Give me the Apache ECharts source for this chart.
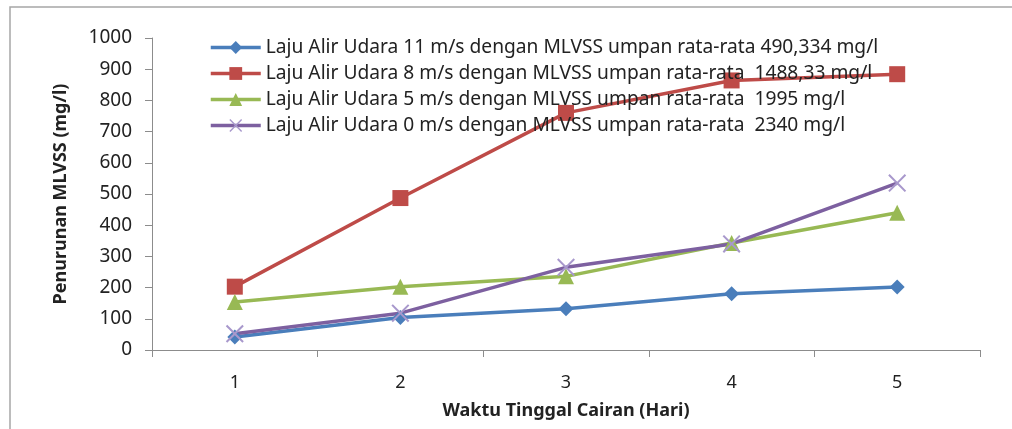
<!DOCTYPE html>
<html><head><meta charset="utf-8">
<script src="https://cdn.jsdelivr.net/npm/echarts@6/dist/echarts.min.js"></script>
<style>html,body{margin:0;padding:0;background:#fff}#c{width:1012px;height:429px}</style>
</head><body><div id="c"></div>
<script>
const categories = ['1','2','3','4','5'];
const seriesNames = [
  'Laju Alir Udara 11 m/s dengan MLVSS umpan rata-rata 490,334 mg/l',
  'Laju Alir Udara 8 m/s dengan MLVSS umpan rata-rata  1488,33 mg/l',
  'Laju Alir Udara 5 m/s dengan MLVSS umpan rata-rata  1995 mg/l',
  'Laju Alir Udara 0 m/s dengan MLVSS umpan rata-rata  2340 mg/l'
];
const air11 = [42, 104, 132, 180, 202];
const air8 = [203, 487, 760, 864, 884];
const air5 = [154, 203, 236, 343, 440];
const air0 = [52, 118, 265, 340, 535];
const yTicks = {min: 0, max: 1000, interval: 100};

const colors = ['#4a7ebb', '#be4b48', '#98b954', '#7d60a0'];
const crossPath = 'path://M0,0.8L0.8,0L5,4.2L9.2,0L10,0.8L5.8,5L10,9.2L9.2,10L5,5.8L0.8,10L0,9.2L4.2,5Z';
const symbols = ['diamond', 'rect', 'triangle', crossPath];
const sizes = [15, 16, 16, 18];
const datas = [air11, air8, air5, air0];
const font = 'Noto Sans';

const chart = echarts.init(document.getElementById('c'), null, {renderer: 'canvas'});
chart.setOption({
  animation: false,
  backgroundColor: '#fff',
  graphic: [{type: 'rect', shape: {x: 10, y: 7, width: 1200, height: 600}, style: {fill: 'none', stroke: '#a6a6a6', lineWidth: 1.5}}],
  legend: {
    orient: 'vertical', left: 204, top: 33, itemGap: 7, itemWidth: 50, itemHeight: 16,
    lineStyle: {width: 3.5},
    textStyle: {fontFamily: font, fontSize: 19.2, color: '#222'},
    data: seriesNames
  },
  grid: {left: 152, right: 32, top: 38, bottom: 79},
  xAxis: {
    type: 'category', data: categories, boundaryGap: true,
    name: 'Waktu Tinggal Cairan (Hari)', nameLocation: 'middle', nameGap: 52,
    nameTextStyle: {fontFamily: font, fontSize: 18, fontWeight: 'bold', color: '#222'},
    axisLine: {lineStyle: {color: '#8c8c8c', width: 1}},
    axisTick: {show: true, length: 7, lineStyle: {color: '#8c8c8c'}},
    axisLabel: {margin: 24, fontFamily: font, fontSize: 18, color: '#222'}
  },
  yAxis: {
    type: 'value', min: yTicks.min, max: yTicks.max, interval: yTicks.interval,
    name: 'Penurunan MLVSS (mg/l)', nameLocation: 'middle', nameGap: 82,
    nameTextStyle: {fontFamily: font, fontSize: 18, fontWeight: 'bold', color: '#222'},
    axisLine: {show: true, lineStyle: {color: '#8c8c8c', width: 1}},
    axisTick: {show: true, length: 7, lineStyle: {color: '#8c8c8c'}},
    splitLine: {show: false},
    axisLabel: {margin: 20, fontFamily: font, fontSize: 19, color: '#222', formatter: v => String(v)}
  },
  series: datas.map((d, i) => ({
    name: seriesNames[i], type: 'line', data: d,
    symbol: symbols[i], symbolSize: sizes[i],
    lineStyle: {color: colors[i], width: 3.5},
    itemStyle: {color: i === 3 ? '#a898cc' : colors[i]},
    z: 2
  }))
});
</script></body></html>
